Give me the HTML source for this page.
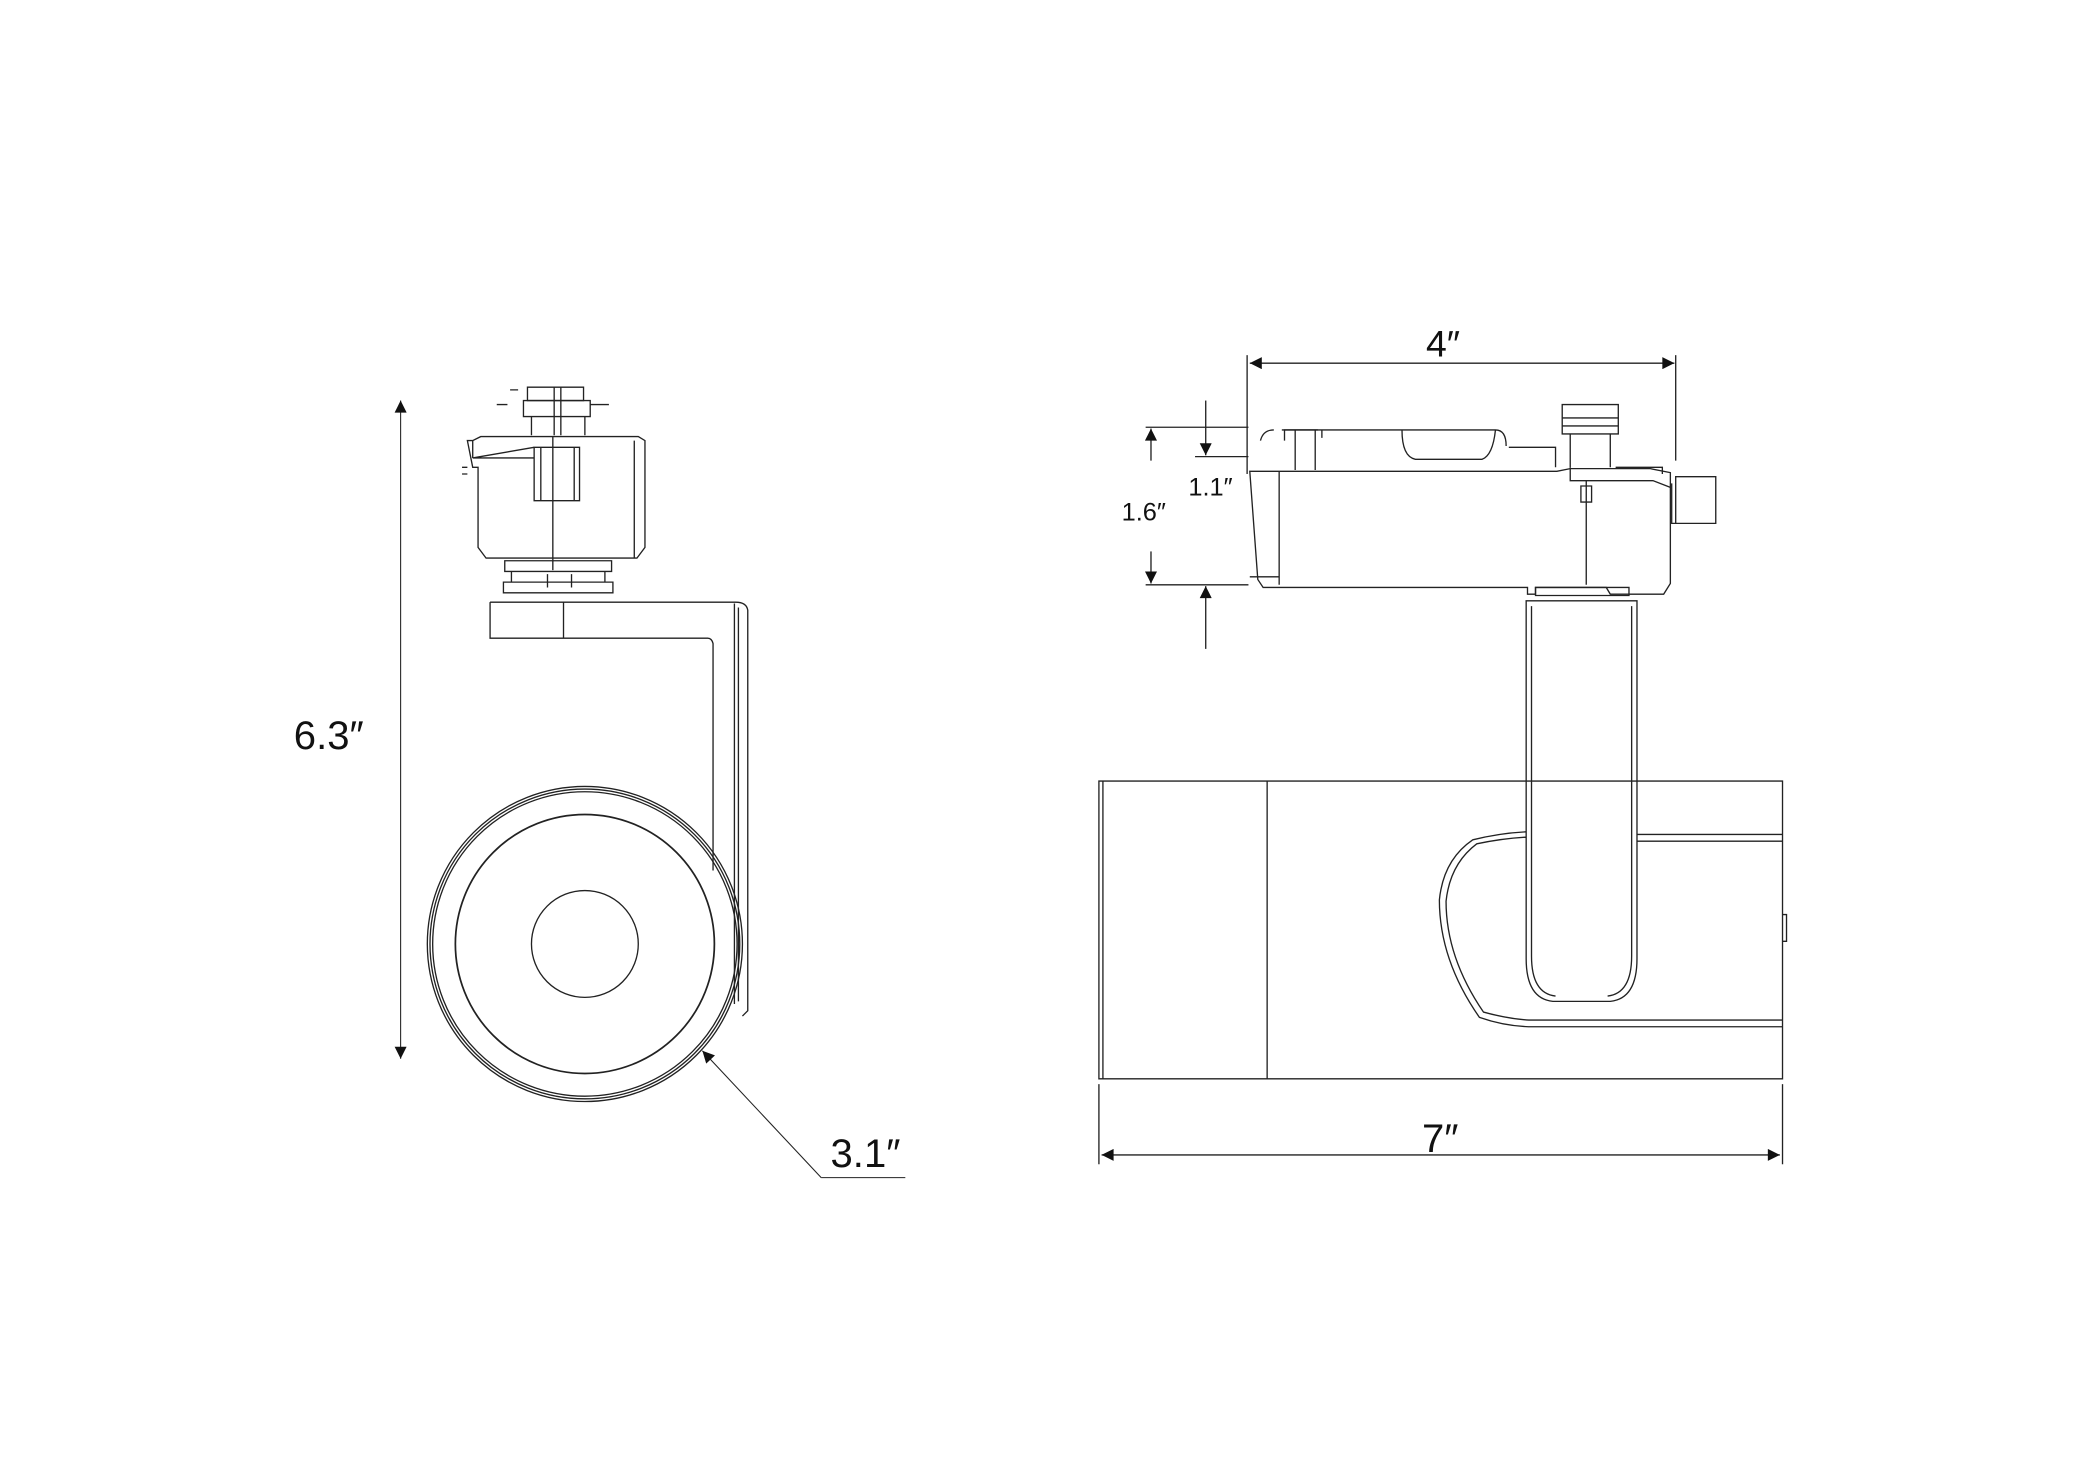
<!DOCTYPE html>
<html><head><meta charset="utf-8"><style>
html,body{margin:0;padding:0;background:#fff;}
svg{display:block}
text{font-family:"Liberation Sans",sans-serif;fill:#111}
</style></head><body>
<svg width="2083" height="1458" viewBox="0 0 1560 1092" xmlns="http://www.w3.org/2000/svg">
<defs>
<marker id="a" viewBox="0 0 10 10" refX="10" refY="5" markerWidth="18" markerHeight="9" markerUnits="userSpaceOnUse" orient="auto-start-reverse"><path d="M0,0 L10,5 L0,10 z" fill="#111"/></marker>
</defs>
<g fill="none" stroke="#222" stroke-width="1">
<!-- LEFT VIEW -->
<line x1="300" y1="300" x2="300" y2="793" stroke-width="0.8" marker-start="url(#a)" marker-end="url(#a)"/>
<path d="M395,290 h42 v10 h-42z"/>
<path d="M392,300 h50 v12 h-50z"/>
<path d="M380,303 h-8 M442,303 h14 M388,292 h-6"/>
<path d="M398,312 v14 M438,312 v14 M415,290 v36 M420,290 v36"/>
<path d="M350,330 h4 l6,-3 h118 l5,3 v80 l-6,8 h-113 l-6,-8 v-60 h-4 z"/>
<path d="M354,343 l46,-8 M354,343 h46 M354,330 v13"/>
<path d="M400,335 h34 v40 h-34z M405,335 v40 M430,335 v40"/>
<path d="M414,327 v100 M475,330 v88"/>
<path d="M346,350 h4 M346,355 h4"/>
<path d="M378,420 h80 v8 h-80z M383,428 h70 v8 h-70z M377,436 h82 v8 h-82z"/>
<path d="M410,430 v10 M428,430 v10"/>
<path d="M367,451 h184 q8,0 9,6 v300 l-4,4"/>
<path d="M367,451 v27 h163 q3,0 4,4 v170"/>
<path d="M422,451 v27 M550,452 v300 M553,455 v295"/>
<circle cx="438" cy="707" r="118"/>
<circle cx="438" cy="707" r="116"/>
<circle cx="438" cy="707" r="114"/>
<circle cx="438" cy="707" r="97" stroke-width="1.3"/>
<circle cx="438" cy="707" r="40"/>
<line x1="615" y1="882" x2="526" y2="787" stroke-width="0.8" marker-end="url(#a)"/>
<line x1="615" y1="882" x2="678" y2="882" stroke-width="0.8"/>
<!-- RIGHT VIEW -->
<line x1="936" y1="272" x2="1254" y2="272" marker-start="url(#a)" marker-end="url(#a)"/>
<line x1="934" y1="266" x2="934" y2="355"/>
<line x1="1255" y1="266" x2="1255" y2="345"/>
<line x1="858" y1="320" x2="935" y2="320"/>
<line x1="858" y1="438" x2="935" y2="438"/>
<line x1="862" y1="345" x2="862" y2="321" marker-end="url(#a)"/>
<line x1="862" y1="413" x2="862" y2="437" marker-end="url(#a)"/>
<line x1="895" y1="342" x2="935" y2="342"/>
<line x1="903" y1="300" x2="903" y2="341" marker-end="url(#a)"/>
<line x1="903" y1="486" x2="903" y2="439" marker-end="url(#a)"/>
<path d="M936,353 h230 l10,-2 h60 l15,3 v83 l-5,8 h-40 l-3,-5 h-53 v5 h-6 v-5 h-198 l-4,-6 z"/>
<path d="M958,353 v85 M936,432 h22"/>
<path d="M1188,360 v78 M1176,350 v10 h62 l13,5"/>
<path d="M1184,364 h8 v12 h-8z"/>
<path d="M1255,357 h30 v35 h-30 z M1252,362 v30 h3"/>
<path d="M944,330 q2,-8 10,-8 M962,330 v-8 h25 M970,322 v30 M985,322 v30"/>
<path d="M960,322 h160 q8,0 8,12 M990,322 v6 M1050,322 q0,20 10,22 h50 q8,-3 10,-22"/>
<path d="M1130,335 h35 v15"/>
<path d="M1170,303 h42 v10 h-42z M1170,313 h42 v6 h-42z M1170,319 h42 v6 h-42z M1176,325 v25 M1206,325 v25"/>
<path d="M1210,350 l35,0 v5"/>
<path d="M1143,450 h83 v268 q0,30 -20,32 h-43 q-20,-2 -20,-32 z"/>
<path d="M1147,454 v262 q0,28 18,30 M1222,454 v262 q0,28 -18,30"/>
<path d="M1150,440 h70 v6 h-70z"/>
<path d="M823,585 h512 v223 h-512 z"/>
<path d="M826,585 v223 M949,585 v223"/>
<path d="M1226,625 h109 M1226,630 h109"/>
<path d="M1143,623 q-20,1 -40,6 q-22,15 -25,45 q0,45 30,88 q20,7 40,7 h187"/>
<path d="M1143,627 q-18,1 -37,5 q-20,15 -23,43 q0,42 28,83 q18,5 34,6 h190"/>
<path d="M1335,685 h3 v20 h-3"/>
<line x1="823" y1="812" x2="823" y2="872"/>
<line x1="1335" y1="812" x2="1335" y2="872"/>
<line x1="825" y1="865" x2="1333" y2="865" marker-start="url(#a)" marker-end="url(#a)"/>
</g>
<text x="220" y="561" font-size="30">6.3″</text>
<text x="622" y="874" font-size="30">3.1″</text>
<text x="1068" y="267" font-size="28">4″</text>
<text x="890" y="371" font-size="19">1.1″</text>
<text x="840" y="390" font-size="19">1.6″</text>
<text x="1065" y="863" font-size="30">7″</text>
</svg>
</body></html>
